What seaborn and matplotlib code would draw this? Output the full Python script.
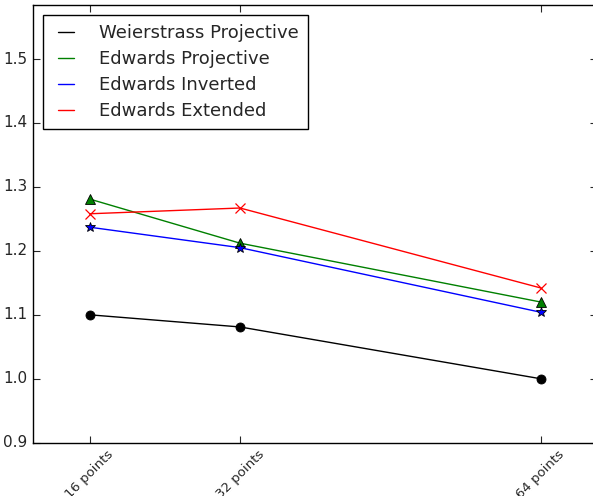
import matplotlib
matplotlib.use("Agg")
import matplotlib.pyplot as plt
from matplotlib.lines import Line2D
import seaborn as sns
import pandas as pd

# Relative cost per curve representation, by batch size
point_counts = [16, 32, 64]
tick_labels = ["16 points", "32 points", "64 points"]
series_names = ["Weierstrass Projective", "Edwards Projective",
                "Edwards Inverted", "Edwards Extended"]
weierstrass_projective = [1.100, 1.081, 1.000]
edwards_projective = [1.281, 1.212, 1.120]
edwards_inverted = [1.237, 1.205, 1.104]
edwards_extended = [1.258, 1.267, 1.142]

series_values = [weierstrass_projective, edwards_projective,
                 edwards_inverted, edwards_extended]
colors = ["black", "green", "blue", "red"]
markers = ["o", "^", "*", "x"]

plt.style.use("classic")
sns.set_style("ticks", {"xtick.direction": "in", "ytick.direction": "in"})
plt.rcParams["font.family"] = ["DejaVu Sans"]

fig = plt.figure(figsize=(5.93, 4.96), dpi=100, facecolor="white")
ax = fig.add_axes([33.3 / 593, 53.3 / 496, 563.8 / 593, 437.4 / 496])
ax.set_facecolor("white")

for name, vals, c, m in zip(series_names, series_values, colors, markers):
    df = pd.DataFrame({"points": point_counts, "ratio": vals})
    edge = c if m == "x" else "black"
    sns.lineplot(data=df, x="points", y="ratio", color=c, marker=m,
                 markersize=6.5 if m != "*" else 7.5, markeredgecolor=edge,
                 markeredgewidth=0.6 if m != "x" else 0.9,
                 linewidth=1.0, ax=ax, legend=False)

ax.set_xlim(10, 70)
ax.set_ylim(0.9, 1.584)
ax.set_xticks(point_counts)
ax.set_xticklabels(tick_labels, rotation=45, fontsize=9.5)
ax.set_yticks([0.9, 1.0, 1.1, 1.2, 1.3, 1.4, 1.5])
ax.set_yticklabels(["0.9", "1.0", "1.1", "1.2", "1.3", "1.4", "1.5"], fontsize=11)
ax.set_xlabel("")
ax.set_ylabel("")
ax.tick_params(direction="in", top=True, right=True, length=5, width=0.8)
for s in ax.spines.values():
    s.set_visible(True)
    s.set_color("black")
    s.set_linewidth(1.0)
ax.spines["right"].set_visible(False)

handles = [Line2D([], [], color=c, linewidth=1.0) for c in colors]
leg = ax.legend(handles, series_names, loc="upper left", fontsize=13,
                frameon=True, fancybox=False, shadow=False, framealpha=1,
                borderpad=0.5, labelspacing=0.44, handlelength=1.5,
                handletextpad=1.1, borderaxespad=0.55)
leg.get_frame().set_edgecolor("black")
leg.get_frame().set_linewidth(1.0)

fig.savefig("out.png", dpi=100, facecolor="white")
